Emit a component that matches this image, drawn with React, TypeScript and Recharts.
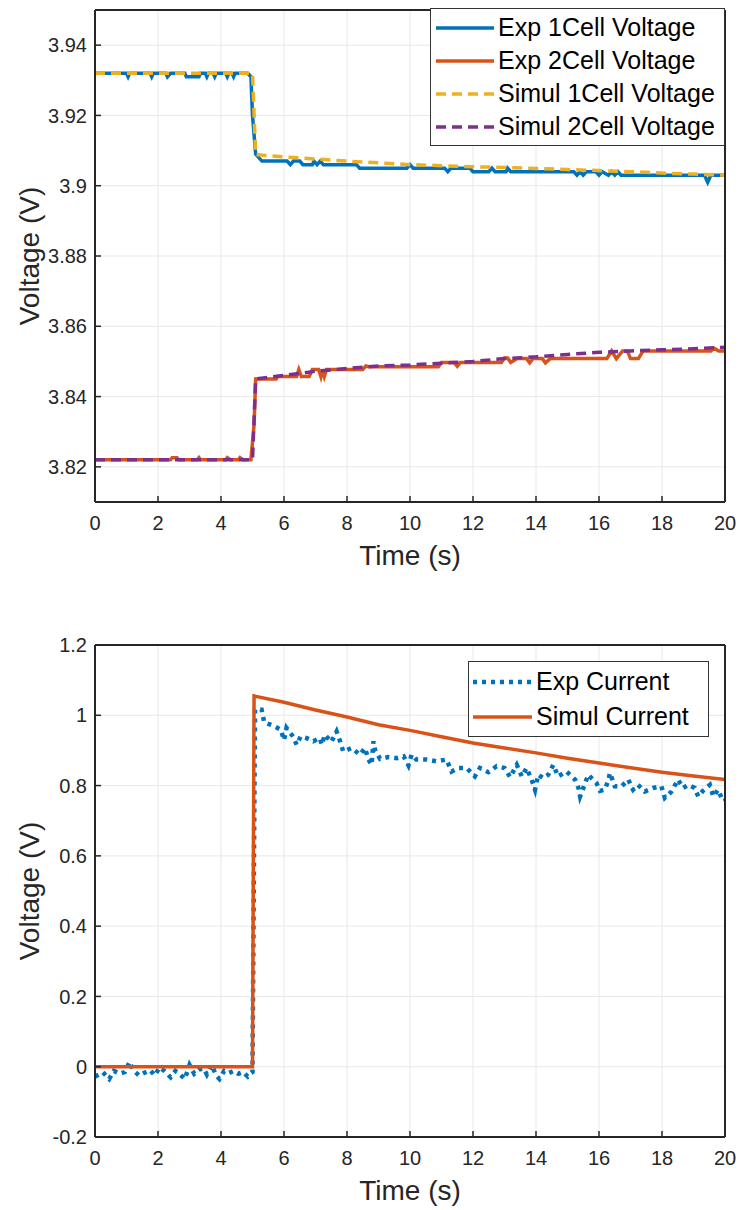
import React from 'react';
import { LineChart, Line, XAxis, YAxis, CartesianGrid, Legend } from 'recharts';

const FONT = '"Liberation Sans", Arial, Helvetica, sans-serif';
const TEXT = '#262626';
const AXIS = '#262626';
const GRID = '#e8e8e8';

const BLUE = '#0072BD';
const ORANGE = '#D95319';
const YELLOW = '#EDB120';
const PURPLE = '#7E2F8E';

// Tick labels
const timeTicks = [0, 2, 4, 6, 8, 10, 12, 14, 16, 18, 20];
const voltTicks = [3.82, 3.84, 3.86, 3.88, 3.9, 3.92, 3.94];
const currTicks = [-0.2, 0, 0.2, 0.4, 0.6, 0.8, 1, 1.2];

// Top chart series: [time (s), voltage (V)]
const exp1Cell: [number, number][] = [
  [0, 3.932], [1.0, 3.932], [1.05, 3.931], [1.1, 3.932], [1.75, 3.932], [1.8, 3.931], [1.85, 3.932],
  [2.25, 3.932], [2.3, 3.931], [2.4, 3.932], [2.85, 3.932], [2.9, 3.931], [3.3, 3.931], [3.35, 3.932],
  [3.5, 3.932], [3.55, 3.931], [3.6, 3.932], [3.75, 3.932], [3.8, 3.931], [3.85, 3.932], [4.15, 3.932],
  [4.2, 3.931], [4.25, 3.932], [4.35, 3.932], [4.4, 3.931], [4.45, 3.932], [4.85, 3.932], [4.95, 3.931],
  [5.0, 3.92], [5.1, 3.909], [5.2, 3.908], [5.3, 3.907], [6.1, 3.907], [6.2, 3.906], [6.3, 3.907],
  [6.5, 3.907], [6.6, 3.906], [6.9, 3.906], [6.95, 3.907], [7.05, 3.906], [7.15, 3.907], [7.25, 3.906],
  [8.3, 3.906], [8.4, 3.905], [9.9, 3.905], [10.0, 3.906], [10.1, 3.905], [11.1, 3.905], [11.2, 3.904],
  [11.3, 3.905], [11.9, 3.905], [12.0, 3.904], [12.5, 3.904], [12.6, 3.905], [12.7, 3.904], [13.05, 3.904],
  [13.1, 3.905], [13.2, 3.904], [15.2, 3.904], [15.3, 3.903], [15.4, 3.904], [15.5, 3.903], [15.6, 3.904],
  [15.9, 3.904], [16.0, 3.903], [16.1, 3.904], [16.3, 3.903], [16.4, 3.904], [16.5, 3.903], [16.6, 3.904],
  [16.7, 3.903], [19.35, 3.903], [19.45, 3.901], [19.55, 3.903], [20, 3.903],
];

const exp2Cell: [number, number][] = [
  [0, 3.822], [2.4, 3.822], [2.45, 3.8226], [2.6, 3.8226], [2.65, 3.822], [3.25, 3.822], [3.3, 3.8226],
  [3.35, 3.822], [4.15, 3.822], [4.2, 3.8226], [4.3, 3.822], [4.55, 3.822], [4.6, 3.8226], [4.7, 3.822],
  [4.95, 3.822], [5.05, 3.832], [5.1, 3.845], [5.75, 3.845], [5.8, 3.8457], [6.4, 3.8457], [6.47, 3.8477],
  [6.55, 3.8457], [6.8, 3.8457], [6.9, 3.8477], [7.1, 3.8477], [7.17, 3.8457], [7.22, 3.8477], [7.28, 3.8457],
  [7.35, 3.8477], [8.5, 3.8477], [8.6, 3.8487], [8.7, 3.8485], [10.9, 3.8485], [11.0, 3.8497], [11.4, 3.8497],
  [11.5, 3.8486], [11.6, 3.8497], [12.9, 3.8497], [13.0, 3.851], [13.1, 3.851], [13.2, 3.8497], [13.4, 3.8508],
  [13.7, 3.8508], [13.8, 3.8496], [13.9, 3.8508], [14.2, 3.8508], [14.3, 3.8496], [14.45, 3.8508],
  [16.25, 3.8508], [16.4, 3.853], [16.55, 3.8508], [16.75, 3.853], [16.9, 3.853], [17.0, 3.8508],
  [17.25, 3.8508], [17.4, 3.853], [19.55, 3.853], [19.65, 3.8538], [19.8, 3.853], [20, 3.853],
];

const sim1Cell: [number, number][] = [
  [0, 3.932], [5.0, 3.932], [5.1, 3.9088], [6, 3.9082], [7, 3.9076], [8, 3.907], [9, 3.9065], [10, 3.906],
  [11, 3.9057], [12, 3.9054], [13, 3.9052], [14, 3.9049], [15, 3.9046], [16, 3.9043], [17, 3.904],
  [18, 3.9036], [19, 3.9033], [20, 3.903],
];

const sim2Cell: [number, number][] = [
  [0, 3.822], [5.0, 3.822], [5.1, 3.845], [6, 3.846], [7, 3.8472], [8, 3.848], [9, 3.8487], [10, 3.849],
  [11, 3.8495], [12, 3.85], [13, 3.8508], [14, 3.8513], [15, 3.852], [16, 3.8526], [17, 3.853],
  [18, 3.8533], [19, 3.8536], [20, 3.854],
];

// Bottom chart series: [time (s), value]
const expCurrent: [number, number][] = [
  [0, -0.028], [0.25, -0.016], [0.45, -0.035], [0.6, -0.012], [0.8, -0.02], [0.95, -0.015], [1.1, 0.014],
  [1.2, -0.008], [1.4, -0.025], [1.55, -0.018], [1.75, -0.01], [1.9, -0.025], [2.05, -0.002], [2.2, -0.012],
  [2.4, -0.03], [2.55, -0.012], [2.7, -0.022], [2.85, -0.035], [3.0, 0.005], [3.15, -0.02], [3.3, -0.008],
  [3.45, -0.005], [3.55, -0.022], [3.7, 0.005], [3.85, -0.025], [3.95, -0.035], [4.1, -0.012], [4.25, -0.018],
  [4.4, -0.012], [4.55, -0.02], [4.7, -0.015], [4.85, -0.028], [4.95, -0.018], [5.0, -0.015],
  [5.08, 1.016], [5.29, 1.016], [5.37, 0.98], [5.64, 0.971], [5.9, 0.959], [6.0, 0.929], [6.08, 0.964],
  [6.3, 0.938], [6.4, 0.916], [6.53, 0.94], [6.72, 0.935], [6.93, 0.926], [7.14, 0.935], [7.2, 0.916],
  [7.3, 0.945], [7.5, 0.924], [7.67, 0.954], [7.78, 0.926], [7.88, 0.897], [8.15, 0.907], [8.41, 0.888],
  [8.57, 0.907], [8.68, 0.874], [8.78, 0.859], [8.84, 0.926], [8.89, 0.902], [9.05, 0.876], [9.3, 0.881],
  [9.58, 0.878], [9.8, 0.883], [9.95, 0.857], [10.05, 0.888], [10.2, 0.874], [10.27, 0.874], [10.53, 0.874],
  [10.84, 0.869], [11.16, 0.874], [11.32, 0.84], [11.53, 0.85], [11.8, 0.85], [12.06, 0.826], [12.22, 0.85],
  [12.49, 0.838], [12.75, 0.855], [13.0, 0.85], [13.18, 0.824], [13.39, 0.859], [13.55, 0.826], [13.7, 0.85],
  [13.86, 0.817], [13.97, 0.788], [14.07, 0.831], [14.23, 0.821], [14.39, 0.831], [14.55, 0.859], [14.7, 0.826],
  [14.97, 0.84], [15.24, 0.817], [15.35, 0.793], [15.4, 0.769], [15.66, 0.831], [15.92, 0.807], [16.03, 0.785],
  [16.19, 0.788], [16.3, 0.817], [16.35, 0.836], [16.5, 0.798], [16.72, 0.798], [16.93, 0.817], [17.08, 0.788],
  [17.24, 0.802], [17.45, 0.783], [17.72, 0.793], [17.98, 0.798], [18.09, 0.765], [18.3, 0.783], [18.51, 0.817],
  [18.67, 0.793], [18.83, 0.802], [19.04, 0.793], [19.15, 0.769], [19.3, 0.785], [19.52, 0.802], [19.63, 0.769],
  [19.78, 0.788], [19.94, 0.755], [20, 0.757],
];

const simCurrent: [number, number][] = [
  [0, 0], [5.0, 0], [5.05, 1.055], [6, 1.037], [7, 1.015], [8, 0.995], [9, 0.973], [10, 0.957], [11, 0.939],
  [12, 0.921], [13, 0.907], [14, 0.893], [15, 0.878], [16, 0.864], [17, 0.851], [18, 0.838], [19, 0.827],
  [20, 0.817],
];

const toPoints = (arr: [number, number][]) => arr.map(([t, v]) => ({ t, v }));

type Item = { name: string; color: string; dash?: string; width: number };

const DOTS = '4 5';

const topItems: Item[] = [
  { name: 'Exp 1Cell Voltage', color: BLUE, width: 3.5 },
  { name: 'Exp 2Cell Voltage', color: ORANGE, width: 3.5 },
  { name: 'Simul 1Cell Voltage', color: YELLOW, dash: '10 6', width: 3.5 },
  { name: 'Simul 2Cell Voltage', color: PURPLE, dash: '10 6', width: 3.5 },
];

const bottomItems: Item[] = [
  { name: 'Exp Current', color: BLUE, dash: DOTS, width: 4.5 },
  { name: 'Simul Current', color: ORANGE, width: 3.5 },
];

const LegendBox = ({ items, rowH, sampleW, padL }: { items: Item[]; rowH: number; sampleW: number; padL: number }) => (
  <div
    style={{
      border: '1.5px solid #333',
      background: '#fff',
      boxSizing: 'border-box',
      width: '100%',
      padding: `2px 2px 2px ${padL}px`,
      fontFamily: FONT,
      fontSize: 25,
      color: '#000',
      lineHeight: 1,
    }}
  >
    {items.map((it) => (
      <div key={it.name} style={{ display: 'flex', alignItems: 'center', height: rowH }}>
        <svg width={sampleW} height={10} style={{ flex: 'none' }}>
          <line x1={0} y1={5} x2={sampleW} y2={5} stroke={it.color} strokeWidth={it.width} strokeDasharray={it.dash} />
        </svg>
        <span style={{ marginLeft: 4, whiteSpace: 'nowrap' }}>{it.name}</span>
      </div>
    ))}
  </div>
);

const tickStyle = { fill: TEXT, fontSize: 20, fontFamily: FONT };
const titleStyle = { fill: TEXT, fontSize: 28, fontFamily: FONT };

const fmt2 = (v: number) => String(Math.round(v * 100) / 100);
const fmt1 = (v: number) => String(Math.round(v * 10) / 10);

export default function App() {
  const axisLine = { stroke: AXIS, strokeWidth: 2 };
  const tickLine = { stroke: AXIS, strokeWidth: 1.5 };
  return (
    <div style={{ position: 'absolute', left: 0, top: 0, width: 740, height: 1210, background: '#fff' }}>
      <LineChart width={740} height={600} margin={{ top: 10, right: 15, left: 0, bottom: 28 }}>
        <CartesianGrid stroke={GRID} strokeWidth={1} />
        <XAxis
          dataKey="t"
          type="number"
          domain={[0, 20]}
          ticks={timeTicks}
          allowDataOverflow
          height={70}
          tickSize={-6}
          tickMargin={20}
          axisLine={axisLine}
          tickLine={tickLine}
          tick={tickStyle}
          label={{ value: 'Time (s)', position: 'insideBottom', offset: 7, ...titleStyle }}
        />
        <XAxis xAxisId="top" orientation="top" mirror type="number" domain={[0, 20]} ticks={timeTicks} allowDataOverflow
          tickSize={6} tick={false} axisLine={axisLine} tickLine={tickLine} />
        <YAxis
          type="number"
          domain={[3.81, 3.95]}
          ticks={voltTicks}
          allowDataOverflow
          width={95}
          tickSize={-6}
          tickMargin={14}
          tickFormatter={fmt2}
          axisLine={axisLine}
          tickLine={tickLine}
          tick={tickStyle}
          label={{ value: 'Voltage (V)', angle: -90, position: 'insideLeft', offset: 29, style: { textAnchor: 'middle' }, ...titleStyle }}
        />
        <YAxis yAxisId="right" orientation="right" mirror type="number" domain={[3.81, 3.95]} ticks={voltTicks} allowDataOverflow
          tickSize={6} tick={false} axisLine={axisLine} tickLine={tickLine} />
        <Line data={toPoints(exp1Cell)} dataKey="v" stroke={BLUE} strokeWidth={3.5} dot={false} isAnimationActive={false} />
        <Line data={toPoints(exp2Cell)} dataKey="v" stroke={ORANGE} strokeWidth={3.5} dot={false} isAnimationActive={false} />
        <Line data={toPoints(sim1Cell)} dataKey="v" stroke={YELLOW} strokeWidth={3.5} strokeDasharray="10 6" dot={false} isAnimationActive={false} />
        <Line data={toPoints(sim2Cell)} dataKey="v" stroke={PURPLE} strokeWidth={3.5} strokeDasharray="10 6" dot={false} isAnimationActive={false} />
        <Legend
          layout="vertical"
          align="center"
          verticalAlign="middle"
          wrapperStyle={{ left: 430, top: 8, width: 295 }}
          content={() => <LegendBox items={topItems} rowH={33} sampleW={58} padL={5} />}
        />
      </LineChart>
      <LineChart width={740} height={610} margin={{ top: 45, right: 15, left: 0, bottom: 3 }}>
        <CartesianGrid stroke={GRID} strokeWidth={1} />
        <XAxis
          dataKey="t"
          type="number"
          domain={[0, 20]}
          ticks={timeTicks}
          allowDataOverflow
          height={70}
          tickSize={-6}
          tickMargin={20}
          axisLine={axisLine}
          tickLine={tickLine}
          tick={tickStyle}
          label={{ value: 'Time (s)', position: 'insideBottom', offset: 7, ...titleStyle }}
        />
        <XAxis xAxisId="top" orientation="top" mirror type="number" domain={[0, 20]} ticks={timeTicks} allowDataOverflow
          tickSize={6} tick={false} axisLine={axisLine} tickLine={tickLine} />
        <YAxis
          type="number"
          domain={[-0.2, 1.2]}
          ticks={currTicks}
          allowDataOverflow
          width={95}
          tickSize={-6}
          tickMargin={14}
          tickFormatter={fmt1}
          axisLine={axisLine}
          tickLine={tickLine}
          tick={tickStyle}
          label={{ value: 'Voltage (V)', angle: -90, position: 'insideLeft', offset: 29, style: { textAnchor: 'middle' }, ...titleStyle }}
        />
        <YAxis yAxisId="right" orientation="right" mirror type="number" domain={[-0.2, 1.2]} ticks={currTicks} allowDataOverflow
          tickSize={6} tick={false} axisLine={axisLine} tickLine={tickLine} />
        <Line data={toPoints(expCurrent)} dataKey="v" stroke={BLUE} strokeWidth={4.5} strokeDasharray={DOTS} dot={false} isAnimationActive={false} />
        <Line data={toPoints(simCurrent)} dataKey="v" stroke={ORANGE} strokeWidth={3.5} dot={false} isAnimationActive={false} />
        <Legend
          layout="vertical"
          align="center"
          verticalAlign="middle"
          wrapperStyle={{ left: 468, top: 61, width: 241 }}
          content={() => <LegendBox items={bottomItems} rowH={35} sampleW={59} padL={4} />}
        />
      </LineChart>
    </div>
  );
}
